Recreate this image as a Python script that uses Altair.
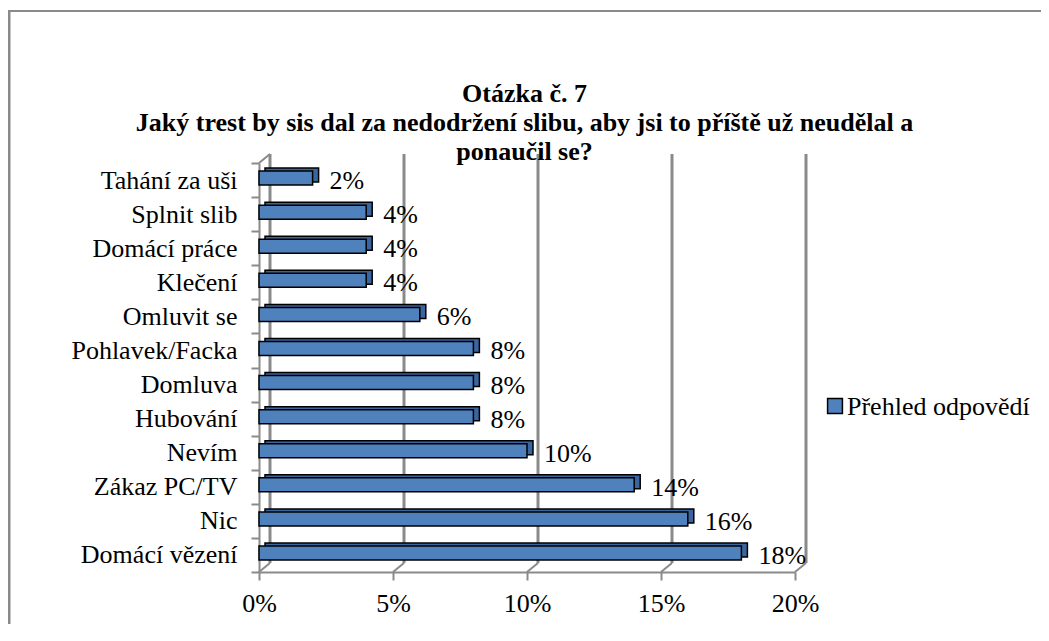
import altair as alt
import pandas as pd

categories = ["Tahání za uši", "Splnit slib", "Domácí práce", "Klečení", "Omluvit se",
              "Pohlavek/Facka", "Domluva", "Hubování", "Nevím", "Zákaz PC/TV", "Nic", "Domácí vězení"]
values = [0.02, 0.04, 0.04, 0.04, 0.06, 0.08, 0.08, 0.08, 0.10, 0.14, 0.16, 0.18]
tick_values = [0.0, 0.05, 0.10, 0.15, 0.20]
title_lines = ["Otázka č. 7",
               "Jaký trest by sis dal za nedodržení slibu, aby jsi to příště už neudělal a",
               "ponaučil se?"]
series_name = "Přehled odpovědí"

W, H = 536, 409
PL, PT, PR, PB = 251, 155, 246, 52
DX, DY = 11, -9
GRAY = "#8a8a8a"
BLUE = "#4f81bd"
DARK = "#3a659e"
FONT = "Liberation Serif, Times New Roman, serif"
FS = 26

bars = pd.DataFrame({"cat": categories, "v": values})
ticks = pd.DataFrame({"t": tick_values})
titles = pd.DataFrame({"line": title_lines, "i": list(range(len(title_lines)))})
legend = pd.DataFrame({"name": [series_name]})
one = pd.DataFrame({"k": [0]})

xscale = alt.Scale(domain=[0, 0.2], nice=False, zero=True)
yenc = alt.Y("cat:N", sort=categories, scale=alt.Scale(paddingInner=0, paddingOuter=0),
             axis=alt.Axis(title=None, labelFont=FONT, labelFontSize=FS, labelColor="black",
                           tickColor=GRAY, tickWidth=2, tickSize=8, tickBand="extent",
                           domainColor=GRAY, domainWidth=2, labelPadding=14, grid=False))

border_top = alt.Chart(one).mark_rule(color=GRAY, strokeWidth=2).encode(
    x=alt.value(-PL), x2=alt.value(W + PR), y=alt.value(-152))
border_left = alt.Chart(one).mark_rule(color=GRAY, strokeWidth=3).encode(
    x=alt.value(-PL + 1), y=alt.value(-152), y2=alt.value(H + PB))

grid = alt.Chart(ticks).mark_rule(color=GRAY, strokeWidth=3, xOffset=DX).encode(
    x=alt.X("t:Q", scale=xscale,
            axis=alt.Axis(values=tick_values, format=".0%", title=None, labelFont=FONT,
                          labelFontSize=FS, labelColor="black", tickColor=GRAY, tickWidth=2,
                          tickSize=8, domainColor=GRAY, domainWidth=2, labelPadding=10,
                          grid=False, labelFlush=False)),
    y=alt.value(DY), y2=alt.value(H + DY))
floor = alt.Chart(ticks).mark_rule(color=GRAY, strokeWidth=2, x2Offset=DX).encode(
    x=alt.X("t:Q", scale=xscale), x2="t:Q", y=alt.value(H), y2=alt.value(H + DY))
wall_top = alt.Chart(one).mark_rule(color=GRAY, strokeWidth=2).encode(
    x=alt.value(0), x2=alt.value(DX), y=alt.value(0), y2=alt.value(DY))

back = alt.Chart(bars).transform_calculate(z="0").mark_bar(
    size=14, xOffset=6, x2Offset=6, yOffset=-5, color=DARK, stroke="black", strokeWidth=1.5
).encode(x=alt.X("z:Q", scale=xscale), x2="v:Q", y=yenc)
front = alt.Chart(bars).transform_calculate(z="0").mark_bar(
    size=14, yOffset=-2, color=BLUE, stroke="black", strokeWidth=1.5
).encode(x=alt.X("z:Q", scale=xscale), x2="v:Q", y=yenc)
labels = alt.Chart(bars).mark_text(align="left", baseline="middle", dx=17, dy=1,
                                   font=FONT, fontSize=FS, color="black").encode(
    x=alt.X("v:Q", scale=xscale), y=yenc, text=alt.Text("v:Q", format=".0%"))

title_y = [-69, -40, -11]
title_layers = [
    alt.Chart(titles).transform_filter(alt.datum.i == k).mark_text(
        align="center", baseline="middle", font=FONT, fontSize=FS, fontWeight="bold",
        color="black").encode(x=alt.value((W + PL + PR) / 2 - PL), y=alt.value(title_y[k]),
                              text="line:N")
    for k in range(len(title_lines))
]

leg_sq = alt.Chart(legend).mark_square(size=220, color=BLUE, stroke="black", strokeWidth=1.5,
                                       opacity=1).encode(
    x=alt.value(576), y=alt.value(243))
leg_tx = alt.Chart(legend).mark_text(align="left", baseline="middle", font=FONT, fontSize=FS,
                                     color="black").encode(
    x=alt.value(588), y=alt.value(244), text="name:N")

chart = alt.layer(border_top, border_left, grid, floor, wall_top, back, front, labels,
                  *title_layers, leg_sq, leg_tx).properties(
    width=W, height=H,
    autosize=alt.AutoSizeParams(type="none"),
    padding={"left": PL, "top": PT, "right": PR, "bottom": PB},
).configure_view(stroke=None)

chart.save("out.html", embed_options={"renderer": "svg", "actions": False})
